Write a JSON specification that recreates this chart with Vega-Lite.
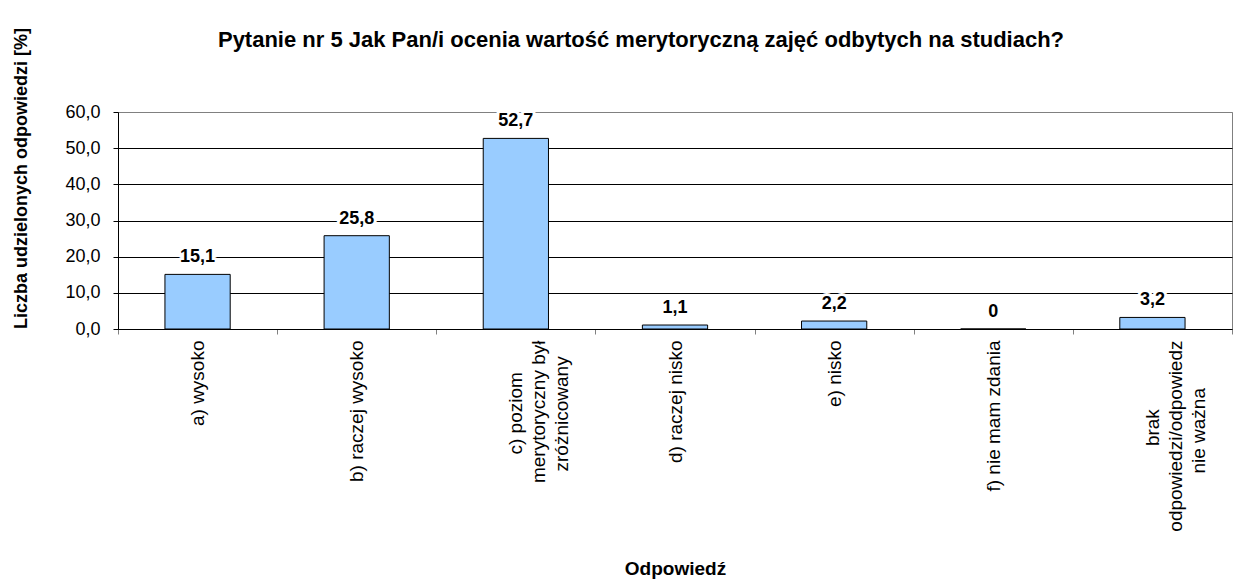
{
  "$schema": "https://vega.github.io/schema/vega-lite/v6.json",
  "width": 1114,
  "height": 217,
  "autosize": {"type": "none"},
  "padding": {"left": 118, "top": 112, "right": 5, "bottom": 250},
  "background": "white",
  "title": {
    "text": "Pytanie nr 5 Jak Pan/i ocenia wartość merytoryczną zajęć odbytych na studiach?",
    "font": "Liberation Sans",
    "fontSize": 22,
    "fontWeight": "bold",
    "color": "black",
    "anchor": "middle",
    "frame": "group",
    "dx": -34,
    "baseline": "alphabetic",
    "offset": -42
  },
  "data": {
    "values": [
      {"odp": "a) wysoko", "pct": 15.1},
      {"odp": "b) raczej wysoko", "pct": 25.8},
      {"odp": "c) poziom|merytoryczny był|zróżnicowany", "pct": 52.7},
      {"odp": "d) raczej nisko", "pct": 1.1},
      {"odp": "e) nisko", "pct": 2.2},
      {"odp": "f) nie mam zdania", "pct": 0},
      {"odp": "brak|odpowiedzi/odpowiedz|nie ważna", "pct": 3.2}
    ]
  },
  "encoding": {
    "x": {
      "field": "odp",
      "type": "nominal",
      "sort": null,
      "scale": {"paddingInner": 0, "paddingOuter": 0},
      "axis": {
        "title": "Odpowiedź",
        "titleFont": "Liberation Sans",
        "titleFontSize": 19,
        "titleFontWeight": "bold",
        "titleColor": "black",
        "titleY": 239,
        "titleBaseline": "middle",
        "labelAngle": -90,
        "labelFont": "Liberation Sans",
        "labelFontSize": 19,
        "labelColor": "black",
        "labelExpr": "length(split(datum.label, '|')) < 3 ? datum.label : [pad(split(datum.label, '|')[0], length(split(datum.label, '|')[0]) + round(0.8 * (max(length(split(datum.label, '|')[0]), length(split(datum.label, '|')[1]), length(split(datum.label, '|')[2])) - length(split(datum.label, '|')[0]))), '\u00a0') + '\u200b', pad(split(datum.label, '|')[1], length(split(datum.label, '|')[1]) + round(0.8 * (max(length(split(datum.label, '|')[0]), length(split(datum.label, '|')[1]), length(split(datum.label, '|')[2])) - length(split(datum.label, '|')[1]))), '\u00a0') + '\u200b', pad(split(datum.label, '|')[2], length(split(datum.label, '|')[2]) + round(0.8 * (max(length(split(datum.label, '|')[0]), length(split(datum.label, '|')[1]), length(split(datum.label, '|')[2])) - length(split(datum.label, '|')[2]))), '\u00a0') + '\u200b']",
        "labelLineHeight": 23,
        "labelPadding": 6,
        "labelLimit": 0,
        "labelOverlap": false,
        "tickBand": "extent",
        "tickSize": 5,
        "tickColor": "#808080",
        "domainColor": "black",
        "grid": false
      }
    },
    "y": {
      "field": "pct",
      "type": "quantitative",
      "scale": {"domain": [0, 60]},
      "axis": {
        "title": "Liczba udzielonych odpowiedzi [%]",
        "titleFont": "Liberation Sans",
        "titleFontSize": 18,
        "titleFontWeight": "bold",
        "titleColor": "black",
        "titleY": 66,
        "titlePadding": 34,
        "format": ".1f",
        "values": [0, 10, 20, 30, 40, 50, 60],
        "labelFont": "Liberation Sans",
        "labelFontSize": 18,
        "labelColor": "black",
        "labelPadding": 13,
        "tickSize": 5,
        "tickColor": "black",
        "domainColor": "black",
        "grid": true,
        "gridColor": {"condition": {"test": "datum.value === 60", "value": "#808080"}, "value": "black"},
        "gridOpacity": 1
      }
    }
  },
  "layer": [
    {
      "mark": {"type": "bar", "fill": "#99CCFF", "stroke": "black", "strokeWidth": 1, "width": {"band": 0.41}}
    },
    {
      "mark": {"type": "text", "baseline": "alphabetic", "dy": -12, "font": "Liberation Sans", "fontSize": 18, "fontWeight": "bold", "fill": "white", "stroke": "white", "strokeWidth": 6, "strokeJoin": "round"},
      "encoding": {"text": {"field": "pct", "type": "quantitative", "format": ".1~f"}}
    },
    {
      "mark": {"type": "text", "baseline": "alphabetic", "dy": -12, "font": "Liberation Sans", "fontSize": 18, "fontWeight": "bold", "fill": "black"},
      "encoding": {"text": {"field": "pct", "type": "quantitative", "format": ".1~f"}}
    }
  ],
  "config": {
    "locale": {"number": {"decimal": ",", "thousands": " ", "grouping": [3], "currency": ["", " zł"]}},
    "view": {"stroke": "#808080", "strokeWidth": 1},
    "font": "Liberation Sans"
  }
}
